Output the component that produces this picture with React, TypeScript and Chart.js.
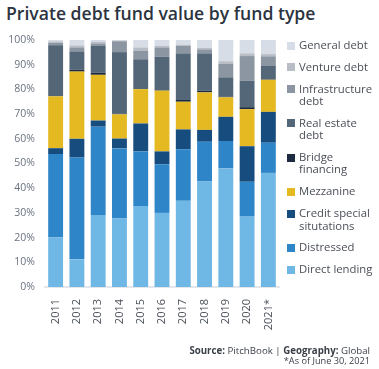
import React, { useEffect, useRef } from 'react';
import { Chart, registerables } from 'chart.js';

Chart.register(...registerables);

const years = ['2011', '2012', '2013', '2014', '2015', '2016', '2017', '2018', '2019', '2020', '2021*'];
const directLending = [20, 11.2, 29.1, 27.7, 32.8, 30, 34.9, 42.7, 48, 28.5, 46.2];
const distressed = [33.8, 41.2, 35.8, 28.4, 22.1, 19.7, 20.9, 16.1, 11.1, 14.1, 12.2];
const creditSpecial = [2.4, 7.6, 2.5, 4, 11.3, 5.2, 8, 4.8, 9.8, 14.4, 12.5];
const mezzanine = [21, 27.2, 18.5, 9.8, 13.9, 24.6, 11.2, 15.2, 7.9, 15, 13];
const bridge = [0, 0.8, 0.9, 0.2, 0, 0.2, 0.7, 0.7, 0.3, 0.8, 0.2];
const realEstate = [20.7, 7.4, 10.8, 25, 12.1, 13.5, 18.9, 15.1, 7.8, 10.7, 5.6];
const infrastructure = [1, 1.6, 1, 4.4, 3.5, 3.8, 3, 1.6, 5.4, 10, 3.7];
const venture = [0.5, 0.8, 0.6, 0.3, 1.3, 0.6, 0.5, 0.6, 1.1, 1.1, 0.9];
const general = [0.6, 2.2, 0.8, 0.2, 3, 2.4, 1.9, 3.2, 8.6, 5.4, 5.7];
const yTicks = [0, 10, 20, 30, 40, 50, 60, 70, 80, 90, 100];

const series = [
  { label: 'Direct lending', legend: ['Direct lending'], data: directLending, color: '#6fb7e4' },
  { label: 'Distressed', legend: ['Distressed'], data: distressed, color: '#2e86c8' },
  { label: 'Credit special situtations', legend: ['Credit special', 'situtations'], data: creditSpecial, color: '#174c7f' },
  { label: 'Mezzanine', legend: ['Mezzanine'], data: mezzanine, color: '#e4b921' },
  { label: 'Bridge financing', legend: ['Bridge', 'financing'], data: bridge, color: '#1c2b3f' },
  { label: 'Real estate debt', legend: ['Real estate', 'debt'], data: realEstate, color: '#546779' },
  { label: 'Infrastructure debt', legend: ['Infrastructure', 'debt'], data: infrastructure, color: '#8c96a2' },
  { label: 'Venture debt', legend: ['Venture debt'], data: venture, color: '#b9bec6' },
  { label: 'General debt', legend: ['General debt'], data: general, color: '#d7dde6' },
];

export default function App() {
  const ref = useRef<HTMLCanvasElement | null>(null);
  useEffect(() => {
    if (!ref.current) return;
    const chart = new Chart(ref.current, {
      type: 'bar',
      data: {
        labels: years,
        datasets: series.map((s) => ({
          label: s.label,
          data: s.data,
          backgroundColor: s.color,
          borderWidth: 0,
          barPercentage: 0.7,
          categoryPercentage: 1,
        })),
      },
      options: {
        animation: false,
        responsive: false,
        maintainAspectRatio: false,
        layout: { padding: { top: 40, right: 100, bottom: 0, left: 0 } },
        plugins: { legend: { display: false }, tooltip: { enabled: false }, title: { display: false } },
        scales: {
          x: {
            stacked: true,
            grid: { display: false, drawTicks: false },
            border: { display: true, color: '#e3e7ec', width: 2 },
            ticks: {
              minRotation: 90,
              maxRotation: 90,
              padding: 12,
              color: '#4a4f57',
              font: { family: 'Open Sans', size: 11 },
            },
            afterFit: (scale: any) => { scale.height = 82; },
          },
          y: {
            stacked: true,
            min: 0,
            max: 100,
            afterBuildTicks: (scale: any) => { scale.ticks = yTicks.map((v) => ({ value: v })); },
            grid: { display: false, drawTicks: false },
            border: { display: false },
            ticks: {
              padding: 10,
              color: '#6b7380',
              font: { family: 'Open Sans', size: 10.5 },
              callback: (v: any) => v + '%',
            },
            afterFit: (scale: any) => { scale.width = 45; },
          },
        },
      },
    });
    return () => chart.destroy();
  }, []);

  const legendItems = [...series].reverse();

  return (
    <div style={{ position: 'absolute', left: 0, top: 0, width: 379, height: 369, background: '#fff', overflow: 'hidden' }}>
      <div style={{ position: 'absolute', left: 6, top: 1, fontFamily: 'Open Sans', fontWeight: 600, fontSize: 17.6, color: '#2b3440', whiteSpace: 'nowrap' }}>
        Private debt fund value by fund type
      </div>
      <canvas ref={ref} width={379} height={369} style={{ position: 'absolute', left: 0, top: 0, width: 379, height: 369 }} />
      <div style={{ position: 'absolute', left: 287, top: 39, display: 'flex', flexDirection: 'column', gap: 9.6, fontFamily: 'Open Sans', fontSize: 11.3, color: '#4a4f57', lineHeight: '12.3px' }}>
        {legendItems.map((s) => (
          <div key={s.label} style={{ display: 'flex', alignItems: 'flex-start' }}>
            <div style={{ width: 8, height: 8, background: s.color, marginTop: 2.5, marginRight: 4, flex: '0 0 auto' }} />
            <div>
              {s.legend.map((l) => (
                <div key={l} style={{ whiteSpace: 'nowrap' }}>{l}</div>
              ))}
            </div>
          </div>
        ))}
      </div>
      <div style={{ position: 'absolute', right: 9, top: 345.5, textAlign: 'right', fontFamily: 'Open Sans', fontSize: 9.7, color: '#3a3f47', lineHeight: '10.5px' }}>
        <div><b>Source:</b> PitchBook | <b>Geography:</b> Global</div>
        <div style={{ fontSize: 9.2 }}>*As of June 30, 2021</div>
      </div>
    </div>
  );
}
